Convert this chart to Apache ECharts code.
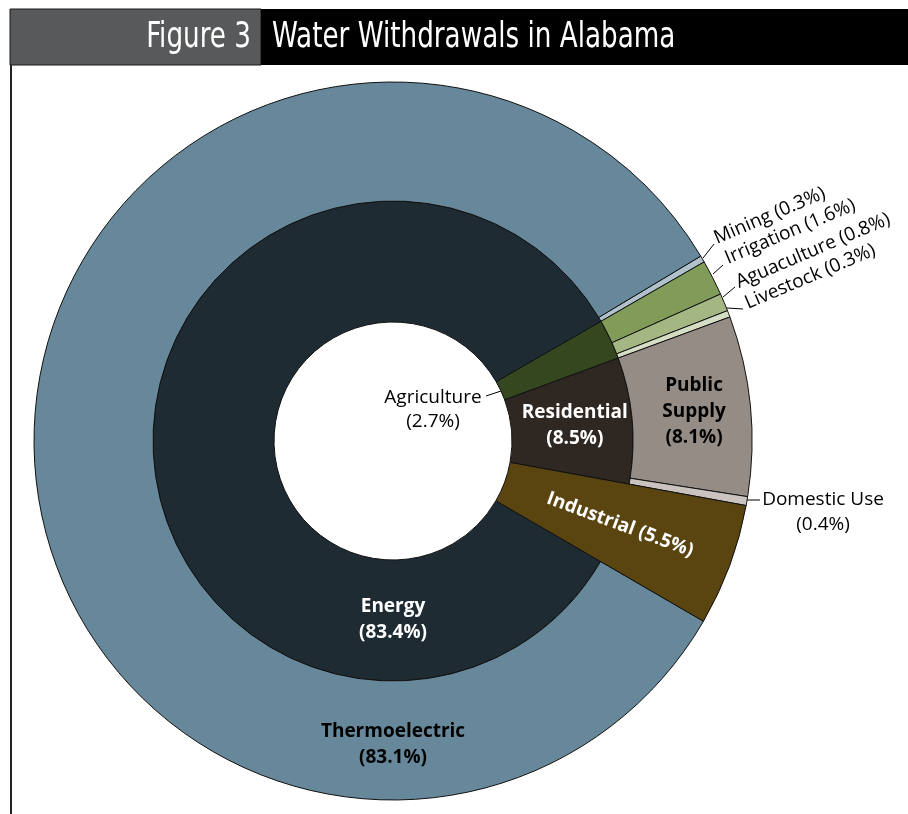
<!DOCTYPE html>
<html>
<head>
<meta charset="utf-8">
<script src="https://cdn.jsdelivr.net/npm/echarts@6/dist/echarts.min.js"></script>
<style>
html,body{margin:0;padding:0;background:#fff;}
#chart{width:908px;height:814px;}
</style>
</head>
<body>
<div id="chart"></div>
<script>
// ---- data ----
const outerNames  = ['Mining', 'Irrigation', 'Aguaculture', 'Livestock', 'Public Supply', 'Domestic Use', 'Industrial', 'Thermoelectric'];
const outerValues = [0.3, 1.6, 0.8, 0.3, 8.1, 0.4, 5.5, 83.1];
const innerNames  = ['Agriculture', 'Residential', 'Industrial', 'Energy'];
const innerValues = [2.7, 8.5, 5.5, 83.4];
const titleFigure = 'Figure 3';
const titleText   = 'Water Withdrawals in Alabama';

// ---- styles ----
const outerColors = {
  'Mining': '#b0c1cc', 'Irrigation': '#819c59', 'Aguaculture': '#a4b682', 'Livestock': '#d6ddc5',
  'Public Supply': '#958c86', 'Domestic Use': '#cac3bf', 'Industrial': 'rgba(0,0,0,0)', 'Thermoelectric': '#67889a'
};
const innerColors = {
  'Agriculture': '#35471f', 'Residential': '#2f2722', 'Industrial': 'rgba(0,0,0,0)', 'Energy': '#1e2b33'
};
const industrialColor = '#5a4510';
const CX = 393, CY = 441, R0 = 119, R1 = 240, R2 = 359;
const OUTER_START = 31;
const outerSum = outerValues.reduce((a, b) => a + b, 0);
const INNER_START = OUTER_START - outerValues[0] / outerSum * 360;
const FONT = '"Open Sans", "Noto Sans", sans-serif';
const TITLE_FONT = '36px "Liberation Sans Narrow", "DejaVu Sans Condensed", "DejaVu Sans", sans-serif';
const BORDER = { borderColor: '#111', borderWidth: 1 };

const pct = v => '(' + v.toFixed(1) + '%)';

const outerLabelPlace = {
  'Mining':       { x: 715, y: 239, rotate: 23, align: 'left', verticalAlign: 'middle', labelLinePoints: [[703, 258], [714, 244], [714, 244]] },
  'Irrigation':   { x: 726, y: 259, rotate: 23, align: 'left', verticalAlign: 'middle', labelLinePoints: [[713, 274], [723, 265], [723, 265]] },
  'Aguaculture':  { x: 737, y: 283, rotate: 23, align: 'left', verticalAlign: 'middle', labelLinePoints: [[723, 297], [735, 287], [735, 287]] },
  'Livestock':    { x: 746, y: 304, rotate: 23, align: 'left', verticalAlign: 'middle', labelLinePoints: [[727, 308], [743, 309], [743, 309]] },
  'Domestic Use': { x: 823, y: 512, align: 'center', verticalAlign: 'middle', labelLinePoints: [[747, 500], [760, 500], [760, 500]] },
  'Thermoelectric': { x: 393, y: 745, align: 'center', verticalAlign: 'middle' }
};
const innerLabelPlace = {
  'Agriculture': { x: 433, y: 410, align: 'center', verticalAlign: 'middle', labelLinePoints: [[501, 391], [486, 396], [486, 396]] },
  'Energy':      { x: 393, y: 620, align: 'center', verticalAlign: 'middle' }
};

const smallOuter = ['Mining', 'Irrigation', 'Aguaculture', 'Livestock'];

const outerData = outerNames.map((n, i) => {
  const v = outerValues[i];
  const item = { name: n, value: v, itemStyle: Object.assign({ color: outerColors[n] }, BORDER) };
  if (n === 'Industrial') {
    item.itemStyle = { color: 'rgba(0,0,0,0)', borderWidth: 0 };
    item.label = { show: false };
    item.labelLine = { show: false };
  } else if (smallOuter.indexOf(n) >= 0) {
    item.label = { show: true, position: 'outside', formatter: n + ' ' + pct(v), color: '#000', fontSize: 19, fontWeight: 'normal', lineHeight: 22 };
    item.labelLine = { show: true, lineStyle: { color: '#000', width: 1 } };
  } else if (n === 'Domestic Use') {
    item.label = { show: true, position: 'outside', formatter: n + '\n' + pct(v), color: '#000', fontSize: 19, fontWeight: 'normal', lineHeight: 25 };
    item.labelLine = { show: true, lineStyle: { color: '#000', width: 1 } };
  } else if (n === 'Public Supply') {
    item.label = { show: true, position: 'inside', formatter: 'Public\nSupply\n' + pct(v), color: '#000', fontSize: 19, fontWeight: 'bold', lineHeight: 26 };
  } else if (n === 'Thermoelectric') {
    item.label = { show: true, position: 'inside', formatter: n + '\n' + pct(v), color: '#000', fontSize: 19, fontWeight: 'bold', lineHeight: 26 };
  }
  return item;
});

const innerData = innerNames.map((n, i) => {
  const v = innerValues[i];
  const item = { name: n, value: v, itemStyle: Object.assign({ color: innerColors[n] }, BORDER) };
  if (n === 'Industrial') {
    item.itemStyle = { color: 'rgba(0,0,0,0)', borderWidth: 0 };
    item.label = { show: false };
    item.labelLine = { show: false };
  } else if (n === 'Agriculture') {
    item.label = { show: true, position: 'outside', formatter: n + '\n' + pct(v), color: '#000', fontSize: 19, fontWeight: 'normal', lineHeight: 24 };
    item.labelLine = { show: true, lineStyle: { color: '#000', width: 1 } };
  } else {
    item.label = { show: true, position: 'inside', formatter: n + '\n' + pct(v), color: '#fff', fontSize: 19, fontWeight: 'bold', lineHeight: 26 };
  }
  return item;
});

const industrialData = innerNames.map((n, i) => {
  const v = innerValues[i];
  if (n === 'Industrial') {
    return { name: n, value: v, itemStyle: Object.assign({ color: industrialColor }, BORDER),
      label: { show: true, position: 'inside', rotate: 'radial', formatter: n + ' ' + pct(v), color: '#fff', fontSize: 19, fontWeight: 'bold' } };
  }
  return { name: n, value: v, itemStyle: { color: 'rgba(0,0,0,0)', borderWidth: 0 }, label: { show: false }, labelLine: { show: false } };
});

const chart = echarts.init(document.getElementById('chart'), null, { renderer: 'canvas' });
chart.setOption({
  animation: false,
  backgroundColor: '#fff',
  textStyle: { fontFamily: FONT },
  graphic: [
    { type: 'rect', shape: { x: 10, y: 9, width: 251, height: 56 }, style: { fill: '#58595b', stroke: '#1a1a1a', lineWidth: 1 } },
    { type: 'rect', shape: { x: 261, y: 9, width: 647, height: 56 }, style: { fill: '#000' } },
    { type: 'text', x: 251, y: 38, scaleX: 0.81, style: { text: titleFigure, fill: '#fff', align: 'right', verticalAlign: 'middle', font: TITLE_FONT } },
    { type: 'text', x: 272, y: 38, scaleX: 0.81, style: { text: titleText, fill: '#fff', align: 'left', verticalAlign: 'middle', font: TITLE_FONT } },
    { type: 'line', shape: { x1: 11, y1: 65, x2: 11, y2: 814 }, style: { stroke: '#222', lineWidth: 2 } }
  ],
  series: [
    {
      name: 'Inner', type: 'pie', center: [CX, CY], radius: [R0, R1], startAngle: INNER_START, clockwise: true,
      avoidLabelOverlap: false, silent: true, emphasis: { disabled: true },
      label: { fontFamily: FONT }, labelLine: { length: 5, length2: 5 },
      data: innerData,
      labelLayout: p => innerLabelPlace[innerNames[p.dataIndex]] || {}
    },
    {
      name: 'Outer', type: 'pie', center: [CX, CY], radius: [R1, R2], startAngle: OUTER_START, clockwise: true,
      avoidLabelOverlap: false, silent: true, emphasis: { disabled: true },
      label: { fontFamily: FONT }, labelLine: { length: 5, length2: 5 },
      data: outerData,
      labelLayout: p => outerLabelPlace[outerNames[p.dataIndex]] || {}
    },
    {
      name: 'Industrial', type: 'pie', center: [CX, CY], radius: [R0, R2], startAngle: INNER_START, clockwise: true,
      avoidLabelOverlap: false, silent: true, emphasis: { disabled: true },
      label: { fontFamily: FONT },
      data: industrialData
    }
  ]
});
</script>
</body>
</html>
